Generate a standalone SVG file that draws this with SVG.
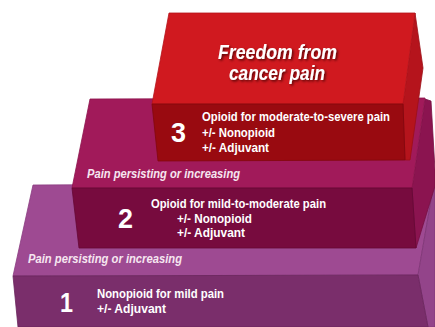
<svg xmlns="http://www.w3.org/2000/svg" width="435" height="327" viewBox="0 0 435 327">
  <defs>
    <filter id="shadow" x="-20%" y="-40%" width="140%" height="180%">
      <feDropShadow dx="1.5" dy="1.5" stdDeviation="1.2" flood-color="#3a0004" flood-opacity="0.8"/>
    </filter>
  </defs>
  <style>
    .face { stroke-width: 0.8; stroke-linejoin: round; }
    .t { font-family: "Liberation Sans Narrow", "Liberation Sans", Arial, sans-serif; font-weight: bold; fill: #ffffff; }
    .body { font-size: 13px; }
    .num { font-size: 27px; }
    .note { font-size: 12px; font-style: italic; fill: #f6e6f0; }
    .title { font-size: 19.5px; font-style: italic; }
  </style>

  <rect width="435" height="327" fill="#ffffff"/>

  <!-- Step 1: bottom block -->
  <g id="step1">
    <polygon class="face" points="33,185 434,183 418,275 13,276" fill="#9e4a92" stroke="#8a3b80"/>
    <polygon class="face" points="434,183 435,183 435,327 428,327 418,275" fill="#93448a" stroke="#7e3575"/>
    <polygon class="face" points="13,276 418,275 428,327 18,327" fill="#7a2e6b" stroke="#6a245c"/>
    <text class="t note" x="28" y="263" textLength="154" lengthAdjust="spacingAndGlyphs">Pain persisting or increasing</text>
    <text class="t num" x="60" y="312" textLength="13" lengthAdjust="spacingAndGlyphs">1</text>
    <text class="t body" x="97" y="298" textLength="127" lengthAdjust="spacingAndGlyphs">Nonopioid for mild pain</text>
    <text class="t body" x="97" y="313" textLength="69" lengthAdjust="spacingAndGlyphs">+/- Adjuvant</text>
  </g>

  <!-- Step 2: middle block -->
  <g id="step2">
    <polygon class="face" points="425,99 431,101 435,170 435,186 416,248 412,188" fill="#8b1450" stroke="#761043"/>
    <polygon class="face" points="90,99 425,98 412,188 72,188" fill="#a11a5a" stroke="#8d134d"/>
    <polygon class="face" points="72,188 412,188 416,248 79,248" fill="#770b3e" stroke="#650833"/>
    <text class="t note" x="87" y="178" textLength="153" lengthAdjust="spacingAndGlyphs">Pain persisting or increasing</text>
    <text class="t num" x="118" y="228" textLength="15" lengthAdjust="spacingAndGlyphs">2</text>
    <text class="t body" x="151" y="208" textLength="175" lengthAdjust="spacingAndGlyphs">Opioid for mild-to-moderate pain</text>
    <text class="t body" x="177" y="223" textLength="75" lengthAdjust="spacingAndGlyphs">+/- Nonopioid</text>
    <text class="t body" x="177" y="237" textLength="68" lengthAdjust="spacingAndGlyphs">+/- Adjuvant</text>
  </g>

  <!-- Step 3: top block -->
  <g id="step3">
    <polygon class="face" points="415,13 423,68 410,160 405,160 403,104" fill="#b5141c" stroke="#9c0f16"/>
    <polygon class="face" points="169,13 415,13 403,104 152,104" fill="#d0191f" stroke="#b5131a"/>
    <polygon class="face" points="152,104 403,104 405,160 158,161" fill="#990a10" stroke="#82070c"/>
    <text class="t num" x="171" y="142" textLength="15" lengthAdjust="spacingAndGlyphs">3</text>
    <text class="t body" x="202" y="121" textLength="188" lengthAdjust="spacingAndGlyphs">Opioid for moderate-to-severe pain</text>
    <text class="t body" x="202" y="137" textLength="73" lengthAdjust="spacingAndGlyphs">+/- Nonopioid</text>
    <text class="t body" x="202" y="152" textLength="67" lengthAdjust="spacingAndGlyphs">+/- Adjuvant</text>
  </g>

  <!-- Goal label on top face -->
  <g id="goal" filter="url(#shadow)">
    <text class="t title" x="218" y="59" textLength="119" lengthAdjust="spacingAndGlyphs">Freedom from</text>
    <text class="t title" x="229" y="80" textLength="96" lengthAdjust="spacingAndGlyphs">cancer pain</text>
  </g>
</svg>
